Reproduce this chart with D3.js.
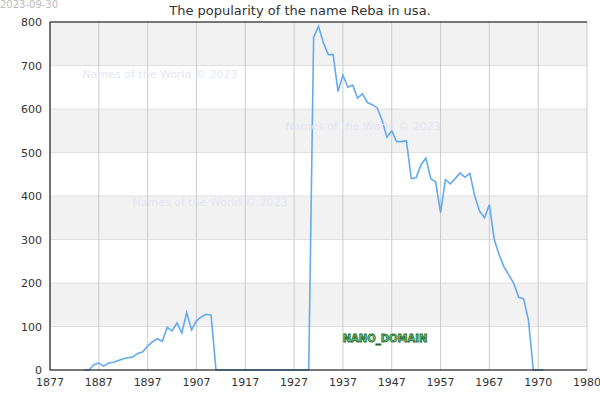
<!DOCTYPE html>
<html>
<head>
<meta charset="utf-8">
<script src="https://cdn.jsdelivr.net/npm/d3@7"></script>
<style>
body { margin: 0; background: #fff; }
text { font-family: "DejaVu Sans", sans-serif; }
</style>
</head>
<body>
<div id="chart"></div>
<script>
// point index -> popularity value (first point at index 7)
var startIndex = 7;
var values = [0, 0, 12, 16, 9, 16, 18, 22, 26, 28, 30, 38, 42, 55, 65, 72, 66, 98, 90, 108,
  85, 132, 92, 113, 122, 128, 126, 0, 0, 0, 0, 0, 0, 0, 0, 0,
  0, 0, 0, 0, 0, 0, 0, 0, 0, 0, 0, 765, 790, 752, 725, 725, 640, 678, 650, 655,
  625, 635, 615, 610, 603, 575, 535, 550, 525, 525, 527, 440, 442, 472, 487, 440, 432, 362, 438, 428,
  440, 453, 443, 452, 400, 365, 350, 380, 300, 265, 237, 218, 199, 167, 164, 115, 0, 0, 0];
var tickLabels = ["1877", "1887", "1897", "1907", "1917", "1927", "1937", "1947", "1957", "1967", "1970", "1980"];
var yTicks = [0, 100, 200, 300, 400, 500, 600, 700, 800];

var svgWidth = 600, svgHeight = 400;
var margin = { top: 22, right: 13, bottom: 30, left: 50 };
var width = svgWidth - margin.left - margin.right;
var height = svgHeight - margin.top - margin.bottom;

var svg = d3.select("#chart").append("svg")
  .attr("width", svgWidth).attr("height", svgHeight);

var g = svg.append("g").attr("transform", `translate(${margin.left},${margin.top})`);

var x = d3.scaleLinear().domain([0, 110]).range([0, width]);
var y = d3.scaleLinear().domain([0, 800]).range([height, 0]);

// alternating bands
g.selectAll(".band").data([100, 300, 500, 700]).enter().append("rect")
  .attr("x", 0).attr("width", width)
  .attr("y", d => y(d + 100)).attr("height", d => y(d) - y(d + 100))
  .attr("fill", "#f2f2f2");

g.selectAll(".hgrid").data(yTicks).enter().append("line")
  .attr("x1", 0).attr("x2", width).attr("y1", d => y(d)).attr("y2", d => y(d))
  .attr("stroke", "#e0e0e0");

g.selectAll(".vgrid").data(tickLabels).enter().append("line")
  .attr("x1", (d, i) => x(i * 10)).attr("x2", (d, i) => x(i * 10))
  .attr("y1", 0).attr("y2", height)
  .attr("stroke", "#cccccc");

// watermarks
var wm = [["Names of the World © 2023", 160, 78], ["Names of the World © 2023", 363, 130], ["Names of the World © 2023", 210, 206]];
svg.selectAll(".wm").data(wm).enter().append("text")
  .attr("x", d => d[1]).attr("y", d => d[2]).attr("text-anchor", "middle")
  .attr("font-size", 11).attr("fill", "#e6e6f5").text(d => d[0]);

var line = d3.line().x((d, i) => x(startIndex + i)).y(d => y(d));
g.append("path").datum(values).attr("d", line)
  .attr("fill", "none").attr("stroke", "#64aaf0").attr("stroke-width", 1.6);

// axes
g.append("line").attr("x1", 0).attr("x2", width).attr("y1", 0).attr("y2", 0).attr("stroke", "#000");
g.append("line").attr("x1", 0).attr("x2", 0).attr("y1", 0).attr("y2", height).attr("stroke", "#000");
g.append("line").attr("x1", 0).attr("x2", width).attr("y1", height).attr("y2", height).attr("stroke", "#000");

g.selectAll(".ylab").data(yTicks).enter().append("text")
  .attr("x", -8).attr("y", d => y(d) + 4).attr("text-anchor", "end")
  .attr("font-size", 11).attr("fill", "#333").text(d => d);

g.selectAll(".xlab").data(tickLabels).enter().append("text")
  .attr("x", (d, i) => x(i * 10)).attr("y", height + 16).attr("text-anchor", "middle")
  .attr("font-size", 11).attr("fill", "#333").text(d => d);

svg.append("text").attr("x", 300).attr("y", 15).attr("text-anchor", "middle")
  .attr("font-size", 13).attr("fill", "#333").text("The popularity of the name Reba in usa.");

svg.append("text").attr("x", 0).attr("y", 8).attr("font-size", 10).attr("fill", "#bbb").text("2023-09-30");

svg.append("text").attr("x", 385).attr("y", 342).attr("text-anchor", "middle")
  .attr("font-size", 10).attr("font-weight", "bold").attr("fill", "#7ec87e")
  .attr("stroke", "#1e6a1e").attr("stroke-width", 0.8).text("NANO_DOMAIN");
</script>
</body>
</html>
